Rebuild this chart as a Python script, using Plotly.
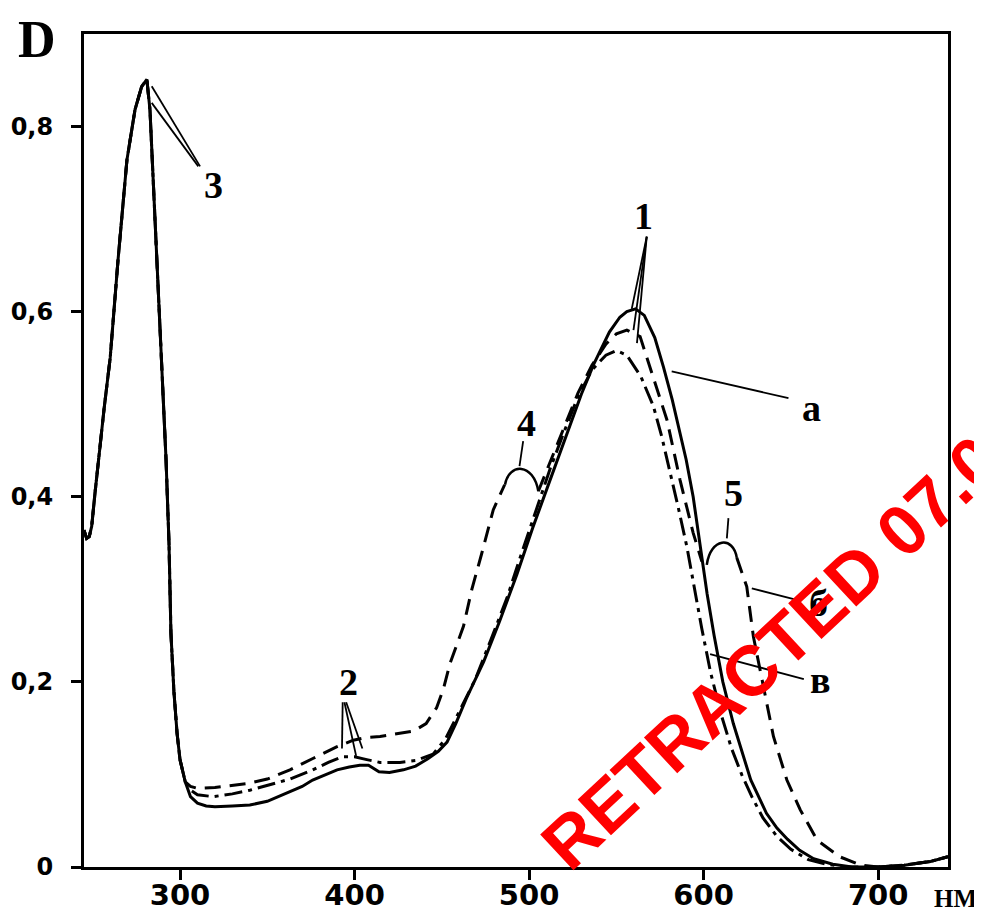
import plotly.graph_objects as go

# ---------------- data ----------------
# wavelength (nm) and optical density D, common part of all three spectra
common_nm = [245, 246.5, 248, 249.4, 251.3, 253.2, 256.5, 260, 264.5, 269.6, 274.2, 278, 281,
             282.8, 285, 286.8, 289.7, 292, 293.7, 294.8, 296.5, 298.3, 300, 303]
common_D = [0.364, 0.355, 0.357, 0.368, 0.404, 0.44, 0.495, 0.55, 0.656, 0.764, 0.818, 0.843, 0.851,
            0.818, 0.73, 0.656, 0.548, 0.44, 0.35, 0.253, 0.19, 0.145, 0.116, 0.092]

# curve "a" (solid)
a_nm = [306, 310, 315, 320, 330, 340, 350, 360, 370, 376, 380, 390, 397, 403, 408, 414, 420, 428,
        435, 442, 448, 453, 458, 464, 474, 483, 493, 502, 512, 522, 530, 537, 546, 552, 556, 561,
        566, 572, 577, 582, 586.5, 590, 594, 598, 602, 606, 611, 617, 622, 627, 636, 642, 648, 655,
        663, 674, 685, 700, 715, 730, 740]
a_D = [0.076, 0.069, 0.066, 0.065, 0.066, 0.067, 0.071, 0.079, 0.087, 0.094, 0.097, 0.105, 0.108,
       0.110, 0.110, 0.103, 0.102, 0.105, 0.109, 0.117, 0.125, 0.135, 0.155, 0.182, 0.222, 0.265,
       0.316, 0.366, 0.418, 0.470, 0.511, 0.543, 0.578, 0.594, 0.600, 0.603, 0.596, 0.572, 0.540,
       0.505, 0.469, 0.44, 0.40, 0.345, 0.295, 0.25, 0.20, 0.155, 0.125, 0.094, 0.058, 0.042, 0.030,
       0.018, 0.009, 0.003, 0.0, 0.0, 0.002, 0.006, 0.011]

# curve "б" (dashed) - three pieces separated by the brackets 4 and 5
b_nm = [306, 310, 320, 330, 338, 350, 363, 376.4, 390, 399.3, 407, 414.6, 426, 434, 441, 447, 451,
        454.7, 462.4, 467.2, 472.9, 479.5, 486,
        None,
        505.3, 512, 520, 528, 536, 544, 550, 556, 563.6, 571, 579, 586.5, 594, 599,
        None,
        619, 624.7, 628.5, 634.3, 640, 647.7, 655.3, 665, 678, 690, 700, 715, 730, 740]
b_D = [0.087, 0.085, 0.086, 0.088, 0.090, 0.095, 0.105, 0.1175, 0.130, 0.137, 0.140, 0.141, 0.145,
       0.147, 0.155, 0.172, 0.193, 0.22, 0.26, 0.30, 0.339, 0.386, 0.413,
       None,
       0.406, 0.437, 0.475, 0.512, 0.542, 0.565, 0.576, 0.580, 0.573, 0.530, 0.483, 0.418, 0.361, 0.33,
       None,
       0.334, 0.303, 0.249, 0.195, 0.141, 0.094, 0.062, 0.029, 0.011, 0.002, 0.0, 0.002, 0.006, 0.011]

# curve "в" (dash-dot)
v_nm = [306, 310, 319, 330, 340, 350, 363, 375, 385, 393, 400, 407, 414.6, 426, 435, 445, 452, 460,
        469, 478, 487.4, 495, 503.4, 512, 520, 528, 536, 544, 550, 556, 564, 571.2, 576, 580.8,
        585.5, 590.4, 594.5, 598.9, 604, 610, 616, 622, 627.6, 634, 642, 650, 660, 670, 682, 700,
        715, 730, 740]
v_D = [0.083, 0.078, 0.076, 0.079, 0.083, 0.088, 0.095, 0.104, 0.113, 0.119, 0.119, 0.116, 0.113,
       0.113, 0.115, 0.122, 0.138, 0.168, 0.202, 0.245, 0.291, 0.335, 0.383, 0.43, 0.47, 0.508,
       0.537, 0.553, 0.558, 0.553, 0.53, 0.498, 0.465, 0.427, 0.388, 0.346, 0.302, 0.258, 0.21,
       0.165, 0.128, 0.099, 0.076, 0.053, 0.033, 0.019, 0.008, 0.003, 0.0, 0.0, 0.002, 0.006, 0.011]

x_tickvals = [300, 400, 500, 600, 700]
x_ticktext = ["300", "400", "500", "600", "700"]
y_tickvals = [0, 0.2, 0.4, 0.6, 0.8]
y_ticktext = ["0", "0,2", "0,4", "0,6", "0,8"]

# number / letter labels (text, nm, D)
labels = [("1", 565.5, 0.703), ("2", 396.3, 0.2), ("3", 319, 0.737), ("4", 498.6, 0.48),
          ("5", 617, 0.404), ("а", 662, 0.496), ("б", 665.8, 0.285), ("в", 666.8, 0.202)]

# leader lines (nm0, D0, nm1, D1)
leaders = [
    (283.8, 0.8436, 311.5, 0.757), (283.8, 0.8256, 310.5, 0.757),
    (567.4, 0.681, 558.8, 0.603), (567.4, 0.681, 559.8, 0.58), (567.4, 0.681, 561.8, 0.566),
    (393.2, 0.178, 392.8, 0.128), (394.2, 0.178, 400.9, 0.120), (395.2, 0.178, 404.5, 0.128),
    (496.6, 0.46, 494.5, 0.433),
    (614.2, 0.377, 613.3, 0.355),
    (581.7, 0.5355, 648.6, 0.5066),
    (627.6, 0.301, 653.3, 0.2886),
    (603.7, 0.23, 657.4, 0.2029),
]

# ---------------- figure ----------------
def join(n1, d1, n2, d2):
    return list(n1) + list(n2), list(d1) + list(d2)

fig = go.Figure()

xb, yb = join(common_nm, common_D, b_nm, b_D)
fig.add_trace(go.Scatter(x=xb, y=yb, mode="lines", connectgaps=False,
                         line=dict(color="black", width=3, dash="16px,9px"), name="б"))
xv, yv = join(common_nm, common_D, v_nm, v_D)
fig.add_trace(go.Scatter(x=xv, y=yv, mode="lines",
                         line=dict(color="black", width=3, dash="18px,6px,4px,6px"), name="в"))
xa, ya = join(common_nm, common_D, a_nm, a_D)
fig.add_trace(go.Scatter(x=xa, y=ya, mode="lines",
                         line=dict(color="black", width=3), name="а"))

shapes = []
for (x0, y0, x1, y1) in leaders:
    shapes.append(dict(type="line", xref="x", yref="y", x0=x0, y0=y0, x1=x1, y1=y1,
                       line=dict(color="black", width=1.8)))
# brackets 4 and 5
shapes.append(dict(type="path", xref="x", yref="y",
                   path="M 486.2,0.413 C 488.5,0.437 502.5,0.437 505.3,0.406",
                   line=dict(color="black", width=2.5)))
shapes.append(dict(type="path", xref="x", yref="y",
                   path="M 601.8,0.3265 C 604,0.356 617,0.358 619,0.334",
                   line=dict(color="black", width=2.5)))

annotations = []
for (t, x, y) in labels:
    annotations.append(dict(text="<b>%s</b>" % t, x=x, y=y, xref="x", yref="y", showarrow=False,
                            xanchor="center", yanchor="middle",
                            font=dict(family="Liberation Serif", size=38, color="black")))
annotations.append(dict(text="<b>D</b>", x=-0.054, y=0.993, xref="paper", yref="paper", showarrow=False,
                        xanchor="center", yanchor="middle",
                        font=dict(family="Liberation Serif", size=52, color="black")))
annotations.append(dict(text="<b>НМ</b>", x=1.036, y=-0.038, xref="paper", yref="paper", showarrow=False,
                        xanchor="right", yanchor="middle",
                        font=dict(family="Liberation Serif", size=25, color="black")))
annotations.append(dict(text="<b>RETRACTED 07.0</b>", x=0.795, y=0.258, xref="paper", yref="paper",
                        showarrow=False, textangle=-43, xanchor="center", yanchor="middle",
                        font=dict(family="Liberation Sans", size=71, color="#ff0000")))

# the page body adds an 8 px offset, so the figure is 8 px smaller and margins compensate
fig.update_layout(
    width=974, height=905,
    margin=dict(l=76, r=34, t=26, b=46),
    paper_bgcolor="white", plot_bgcolor="white",
    showlegend=False,
    shapes=shapes, annotations=annotations,
)
fig.update_xaxes(range=[245, 740], showgrid=False, zeroline=False, automargin=False,
                 showline=True, linewidth=3, linecolor="black", mirror=True,
                 ticks="outside", ticklen=10, tickwidth=2.5, tickcolor="black",
                 tickvals=x_tickvals, ticktext=x_ticktext, ticklabelstandoff=-10,
                 tickfont=dict(family="DejaVu Sans", size=29, color="black", weight="bold"))
fig.update_yaxes(range=[0, 0.9], showgrid=False, zeroline=False, automargin=False,
                 showline=True, linewidth=3, linecolor="black", mirror=True,
                 ticks="outside", ticklen=10, tickwidth=2.5, tickcolor="black",
                 tickvals=y_tickvals, ticktext=y_ticktext, ticklabelstandoff=13,
                 tickfont=dict(family="DejaVu Sans", size=24, color="black", weight="bold"))

fig.write_html("out.html")
